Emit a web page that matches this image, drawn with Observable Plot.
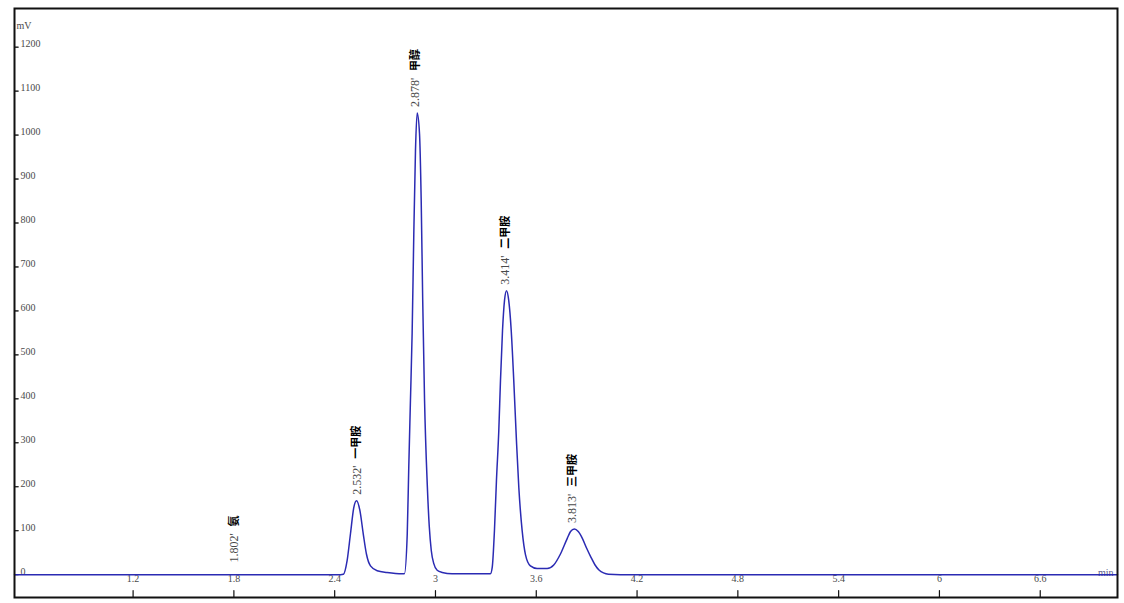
<!DOCTYPE html>
<html>
<head>
<meta charset="utf-8">
<script src="https://cdn.jsdelivr.net/npm/d3@7"></script>
<script src="https://cdn.jsdelivr.net/npm/@observablehq/plot@0.6"></script>
<style>
  html, body { margin: 0; padding: 0; background: #ffffff; }
  #chart svg { display: block; }
</style>
</head>
<body>
<div id="chart"></div>
<script>
// Chromatogram signal (time in min, signal in mV)
const times = [0.494, 1.80, 2.435, 2.452, 2.474, 2.494, 2.514, 2.530, 2.550, 2.570, 2.589, 2.613, 2.653, 2.712, 2.802,
  2.815, 2.832, 2.841, 2.851, 2.861, 2.871, 2.881, 2.891, 2.905, 2.915, 2.924, 2.935, 2.951, 2.963, 2.975, 2.990, 3.010, 3.040, 3.099, 3.327,
  3.338, 3.351, 3.363, 3.377, 3.387, 3.399, 3.411, 3.423, 3.436, 3.451, 3.466, 3.482, 3.496, 3.516, 3.536, 3.565, 3.605, 3.665,
  3.704, 3.744, 3.784, 3.804, 3.827, 3.850, 3.875, 3.900, 3.925, 3.950, 3.975, 4.000, 4.030, 4.101, 7.06];
const signal = [0, 0, 0, 1, 32, 93, 153, 168, 146, 93, 47, 20, 9, 5, 2,
  2, 93, 244, 396, 548, 775, 965, 1050, 1003, 851, 624, 396, 206, 110, 55, 25, 10, 5, 2, 2,
  17, 100, 214, 328, 442, 555, 624, 646, 624, 555, 442, 305, 199, 100, 45, 20, 14, 14,
  22, 47, 82, 98, 104, 98, 82, 60, 40, 22, 10, 4, 1, 0, 0];

// Peak annotations
const peakTimes = [1.802, 2.532, 2.878, 3.414, 3.813];
const peakNames = ["氨", "一甲胺", "甲醇", "二甲胺", "三甲胺"];
const peakHeights = [14, 168, 1050, 646, 104];

// Axis ticks
const xTicks = [1.2, 1.8, 2.4, 3, 3.6, 4.2, 4.8, 5.4, 6, 6.6];
const yTicks = [0, 100, 200, 300, 400, 500, 600, 700, 800, 900, 1000, 1100, 1200];
const xUnit = "min";
const yUnit = "mV";

const xDomain = [0.494, 7.06];
const yDomain = [-52, 1288];

const series = times.map((t, i) => ({t, v: signal[i]}));
const peaks = peakTimes.map((t, i) => ({t, h: peakHeights[i], label: `${t.toFixed(3)}'`, name: peakNames[i]}));

const serif = "'Liberation Serif', 'DejaVu Serif', serif";
const cjk = "'Noto Sans CJK SC', sans-serif";
const textGray = "#4a4a4a";

const chart = Plot.plot({
  width: 1124,
  height: 603,
  marginTop: 8,
  marginRight: 7,
  marginBottom: 6,
  marginLeft: 14,
  x: {domain: xDomain, axis: null},
  y: {domain: yDomain, axis: null},
  style: {background: "#ffffff", fontFamily: serif, fontSize: "10px"},
  marks: [
    // y ticks (inward) and labels
    Plot.vector(yTicks, {y: d => d, frameAnchor: "left", rotate: 90, length: 4, anchor: "start", shape: "spike", r: 0, stroke: "#222", fill: "none", strokeWidth: 1}),
    Plot.text(yTicks, {y: d => d, frameAnchor: "left", dx: 6, dy: -3, text: d => String(d), textAnchor: "start", fill: textGray, fontFamily: serif, fontSize: 10}),
    // x ticks (inward from bottom) and labels
    Plot.vector(xTicks, {x: d => d, frameAnchor: "bottom", rotate: 0, length: 7, anchor: "start", shape: "spike", r: 0, stroke: "#111", fill: "none", strokeWidth: 1.2}),
    Plot.text(xTicks, {x: d => d, frameAnchor: "bottom", dy: -23, lineAnchor: "top", text: d => String(d), fill: textGray, fontFamily: serif, fontSize: 10}),
    // units
    Plot.text([yUnit], {frameAnchor: "top-left", dx: 2, dy: 13, text: d => d, textAnchor: "start", fill: textGray, fontFamily: serif, fontSize: 10}),
    Plot.text([xUnit], {x: xDomain[1], y: 0, dx: -4, dy: -2, text: d => d, textAnchor: "end", fill: "#5a5a8a", fontFamily: serif, fontSize: 10}),
    // signal
    Plot.line(series, {x: "t", y: "v", stroke: "#2b2bb3", strokeWidth: 1.5, curve: "monotone-x"}),
    // peak labels
    Plot.text(peaks, {x: "t", y: "h", text: "label", rotate: -90, textAnchor: "start", dy: -6, fill: textGray, fontFamily: serif, fontSize: 12}),
    Plot.text(peaks, {x: "t", y: "h", text: "name", rotate: -90, textAnchor: "start", dy: -42, fill: "#000", fontFamily: cjk, fontWeight: "bold", fontSize: 11}),
    Plot.frame({stroke: "#111", strokeWidth: 2})
  ]
});
document.getElementById("chart").appendChild(chart);
</script>
</body>
</html>
